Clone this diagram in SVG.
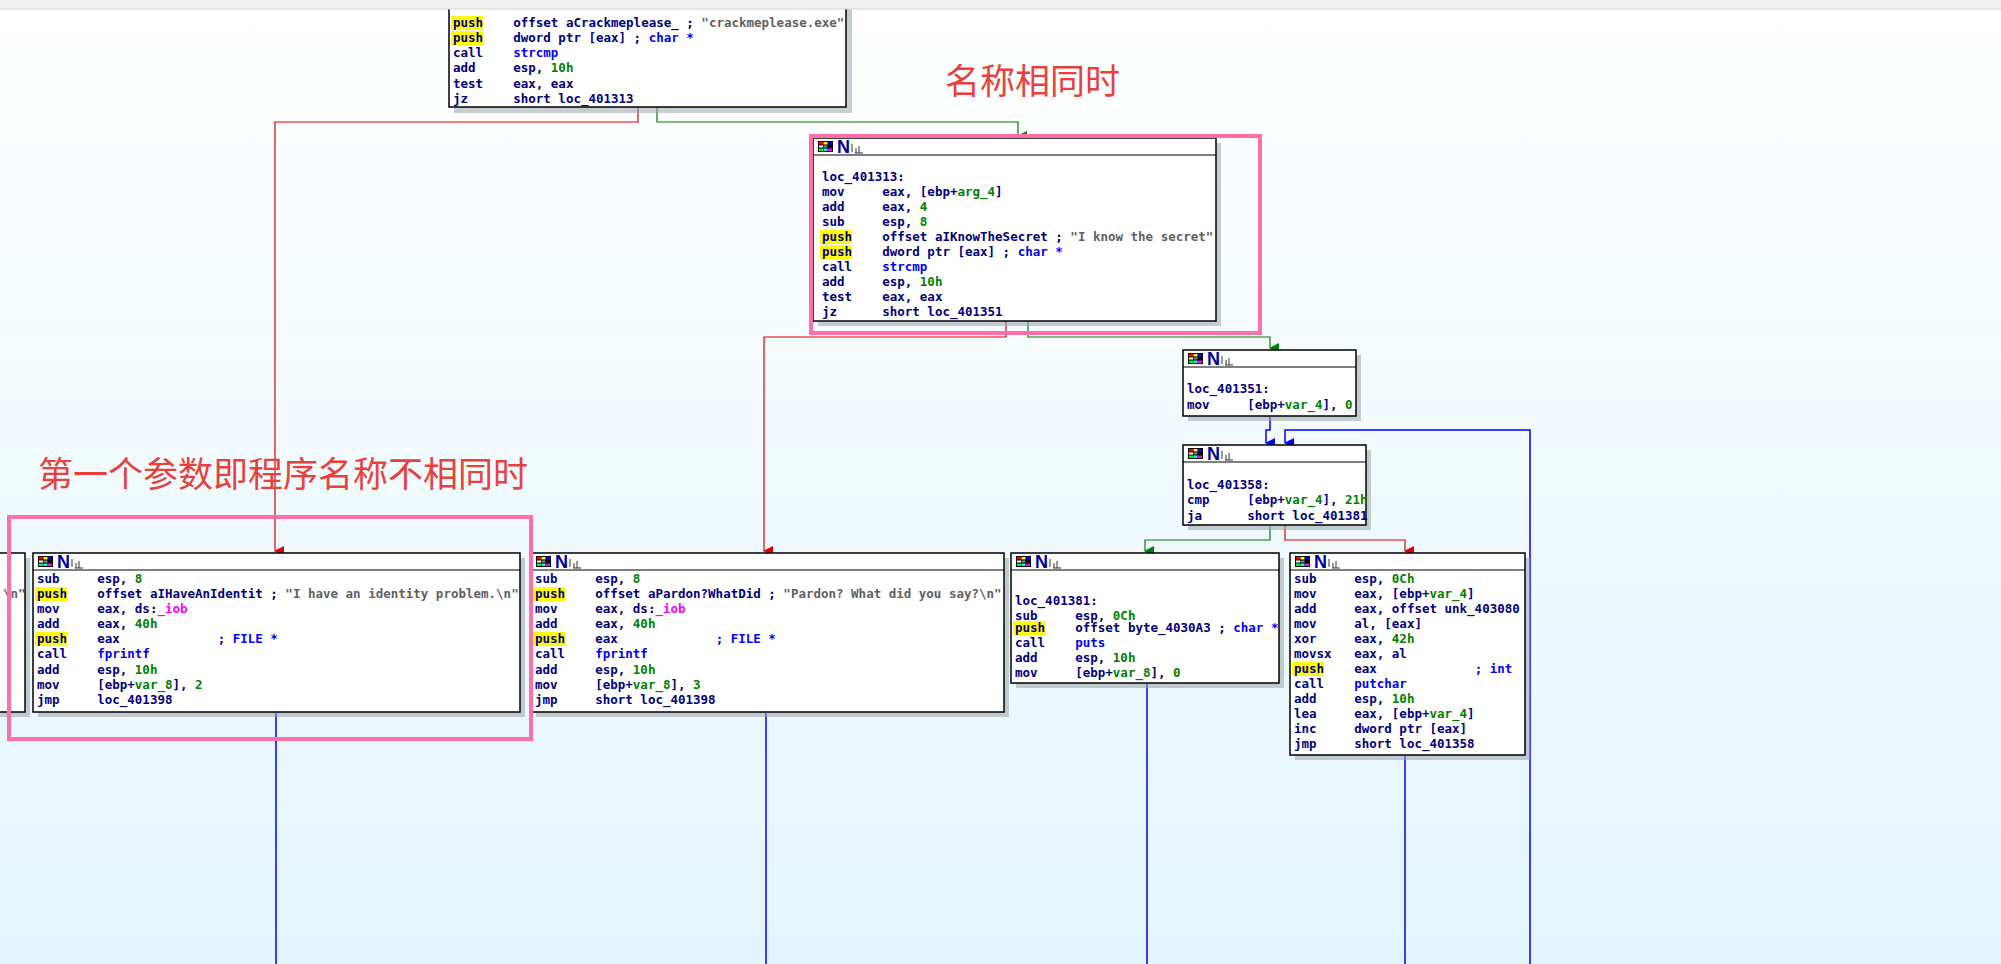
<svg xmlns="http://www.w3.org/2000/svg" width="2001" height="964" viewBox="0 0 2001 964">
<defs>
<linearGradient id="bg" x1="0" y1="0" x2="0" y2="1"><stop offset="0" stop-color="#ffffff"/><stop offset="1" stop-color="#e3f5fc"/></linearGradient>
<marker id="ar" markerWidth="10" markerHeight="10" refX="5" refY="9" orient="auto" markerUnits="userSpaceOnUse"><path d="M0,0 L10,0 L5,10 Z" fill="#e00000"/></marker>
<marker id="ag" markerWidth="10" markerHeight="10" refX="5" refY="9" orient="auto" markerUnits="userSpaceOnUse"><path d="M0,0 L10,0 L5,10 Z" fill="#008000"/></marker>
<marker id="ab" markerWidth="10" markerHeight="10" refX="5" refY="9" orient="auto" markerUnits="userSpaceOnUse"><path d="M0,0 L10,0 L5,10 Z" fill="#0000ff"/></marker>
<g id="hdr"><rect x="3" y="3" width="15" height="11" fill="#000"/><rect x="4" y="4" width="4" height="2.5" fill="#f00"/><rect x="8.5" y="4" width="4" height="2.5" fill="#ff0"/><rect x="13" y="4" width="4" height="2.5" fill="#00f"/><rect x="4" y="7.5" width="4" height="2" fill="#fff"/><rect x="8.5" y="7.5" width="4" height="2" fill="#888"/><rect x="4" y="10.5" width="4" height="2.5" fill="#0f0"/><rect x="8.5" y="10.5" width="4" height="2.5" fill="#0ff"/><rect x="13" y="10.5" width="4" height="2.5" fill="#f0f"/><text x="22" y="15" style="font-family:'Liberation Sans',sans-serif;font-weight:bold;font-size:18px;fill:#0000a0">N</text><path d="M37 6v8M41 10v5M44 8v7M40 15h8" stroke="#333" stroke-width="1" fill="none"/></g>
</defs>
<style>
text{font-family:"DejaVu Sans Mono","Liberation Mono",monospace;font-size:12.5px;font-weight:bold;fill:#000080;white-space:pre}
.b{fill:#0000ff}.g{fill:#008000}.k{fill:#ff00ff}.s{fill:#606060}
.box{fill:#fff;stroke:#000;stroke-width:1.5}
.sh{fill:#9aa4aa;opacity:.55}
.hl{fill:#ffff00}
.pk{fill:none;stroke:#ff6fa8;stroke-width:4}
.zh{font-family:"Noto Sans CJK SC",sans-serif;font-size:35px;font-weight:normal;fill:#e8413c}
.cr{fill:none;stroke:#e00000;stroke-width:1.2}.cg{fill:none;stroke:#008000;stroke-width:1.2}.cb{fill:none;stroke:#0000ff;stroke-width:1.5}
</style>
<rect width="2001" height="964" fill="url(#bg)"/>

<g id="connectors">
<path class="cr" d="M638 107V122H275V551" marker-end="url(#ar)"/>
<path class="cg" d="M657 107V122H1018V136" marker-end="url(#ag)"/>
<path class="cr" d="M1006 321V337H764V551" marker-end="url(#ar)"/>
<path class="cg" d="M1028 321V337H1270V348" marker-end="url(#ag)"/>
<path class="cb" d="M1270 417V430H1266V443" marker-end="url(#ab)"/>
<path class="cb" d="M1530 964V430H1285V443" marker-end="url(#ab)"/>
<path class="cg" d="M1270 526V540H1145V551" marker-end="url(#ag)"/>
<path class="cr" d="M1285 526V540H1405V551" marker-end="url(#ar)"/>
<path class="cb" d="M276 713V964M766 713V964M1147 684V964M1405 756V964"/>
</g>

<g id="n_top">
<rect class="sh" x="454" y="-5" width="398" height="118"/>
<rect class="box" x="449" y="-10" width="397" height="117"/>
<rect class="hl" x="451" y="16" width="32" height="14"/><rect class="hl" x="451" y="31" width="32" height="14"/>
<text x="453" y="5">sub     esp, <tspan class="g">8</tspan></text>
<text x="453" y="27">push    offset aCrackmeplease_ ; <tspan class="s">"crackmeplease.exe"</tspan></text>
<text x="453" y="42">push    dword ptr [eax] ; <tspan class="b">char *</tspan></text>
<text x="453" y="57">call    <tspan class="b">strcmp</tspan></text>
<text x="453" y="72">add     esp, <tspan class="g">10h</tspan></text>
<text x="453" y="88">test    eax, eax</text>
<text x="453" y="103">jz      short loc_401313</text>
</g>
<rect width="2001" height="9" fill="#f0f0f0"/><line x1="0" y1="9" x2="2001" y2="9" stroke="#d8d8d8"/>

<g id="n_401313">
<rect class="sh" x="818" y="143" width="403" height="183"/>
<rect class="box" x="813" y="138" width="403" height="183"/>
<use href="#hdr" x="815" y="138"/><line x1="813" y1="155" x2="1216" y2="155" stroke="#000"/>
<rect class="hl" x="820" y="230" width="32" height="14"/><rect class="hl" x="820" y="245" width="32" height="14"/>
<text x="822" y="181">loc_401313:</text>
<text x="822" y="196">mov     eax, [ebp+<tspan class="g">arg_4</tspan>]</text>
<text x="822" y="211">add     eax, <tspan class="g">4</tspan></text>
<text x="822" y="226">sub     esp, <tspan class="g">8</tspan></text>
<text x="822" y="241">push    offset aIKnowTheSecret ; <tspan class="s">"I know the secret"</tspan></text>
<text x="822" y="256">push    dword ptr [eax] ; <tspan class="b">char *</tspan></text>
<text x="822" y="271">call    <tspan class="b">strcmp</tspan></text>
<text x="822" y="286">add     esp, <tspan class="g">10h</tspan></text>
<text x="822" y="301">test    eax, eax</text>
<text x="822" y="316">jz      short loc_401351</text>
</g>

<g id="n_401351">
<rect class="sh" x="1188" y="355" width="173" height="66"/>
<rect class="box" x="1183" y="350" width="173" height="66"/>
<use href="#hdr" x="1185" y="350"/><line x1="1183" y1="367" x2="1356" y2="367" stroke="#000"/>
<text x="1187" y="393">loc_401351:</text>
<text x="1187" y="409">mov     [ebp+<tspan class="g">var_4</tspan>], <tspan class="g">0</tspan></text>
</g>

<g id="n_401358">
<rect class="sh" x="1188" y="450" width="183" height="80"/>
<rect class="box" x="1183" y="445" width="183" height="80"/>
<use href="#hdr" x="1185" y="445"/><line x1="1183" y1="462" x2="1366" y2="462" stroke="#000"/>
<text x="1187" y="489">loc_401358:</text>
<text x="1187" y="504">cmp     [ebp+<tspan class="g">var_4</tspan>], <tspan class="g">21h</tspan></text>
<text x="1187" y="520">ja      short loc_401381</text>
</g>

<g id="n_left">
<rect class="sh" x="0" y="558" width="30" height="159"/>
<rect class="box" x="-10" y="553" width="35" height="159"/>
<text x="3" y="598" class="s">\n"</text>
</g>

<g id="n_identity">
<rect class="sh" x="38" y="558" width="487" height="159"/>
<rect class="box" x="33" y="553" width="487" height="159"/>
<use href="#hdr" x="35" y="553"/><line x1="33" y1="570" x2="520" y2="570" stroke="#000"/>
<rect class="hl" x="35" y="587" width="32" height="14"/><rect class="hl" x="35" y="632" width="32" height="14"/>
<text x="37" y="583">sub     esp, <tspan class="g">8</tspan></text>
<text x="37" y="598">push    offset aIHaveAnIdentit ; <tspan class="s">"I have an identity problem.\n"</tspan></text>
<text x="37" y="613">mov     eax, ds:<tspan class="k">_iob</tspan></text>
<text x="37" y="628">add     eax, <tspan class="g">40h</tspan></text>
<text x="37" y="643">push    eax             <tspan class="b">; FILE *</tspan></text>
<text x="37" y="658">call    <tspan class="b">fprintf</tspan></text>
<text x="37" y="674">add     esp, <tspan class="g">10h</tspan></text>
<text x="37" y="689">mov     [ebp+<tspan class="g">var_8</tspan>], <tspan class="g">2</tspan></text>
<text x="37" y="704">jmp     loc_401398</text>
</g>

<g id="n_pardon">
<rect class="sh" x="536" y="558" width="473" height="159"/>
<rect class="box" x="531" y="553" width="473" height="159"/>
<use href="#hdr" x="533" y="553"/><line x1="531" y1="570" x2="1004" y2="570" stroke="#000"/>
<rect class="hl" x="533" y="587" width="32" height="14"/><rect class="hl" x="533" y="632" width="32" height="14"/>
<text x="535" y="583">sub     esp, <tspan class="g">8</tspan></text>
<text x="535" y="598">push    offset aPardon?WhatDid ; <tspan class="s">"Pardon? What did you say?\n"</tspan></text>
<text x="535" y="613">mov     eax, ds:<tspan class="k">_iob</tspan></text>
<text x="535" y="628">add     eax, <tspan class="g">40h</tspan></text>
<text x="535" y="643">push    eax             <tspan class="b">; FILE *</tspan></text>
<text x="535" y="658">call    <tspan class="b">fprintf</tspan></text>
<text x="535" y="674">add     esp, <tspan class="g">10h</tspan></text>
<text x="535" y="689">mov     [ebp+<tspan class="g">var_8</tspan>], <tspan class="g">3</tspan></text>
<text x="535" y="704">jmp     short loc_401398</text>
</g>

<g id="n_401381">
<rect class="sh" x="1016" y="558" width="268" height="130"/>
<rect class="box" x="1011" y="553" width="268" height="130"/>
<use href="#hdr" x="1013" y="553"/><line x1="1011" y1="570" x2="1279" y2="570" stroke="#000"/>
<rect class="hl" x="1013" y="621" width="32" height="14"/>
<text x="1015" y="605">loc_401381:</text>
<text x="1015" y="620">sub     esp, <tspan class="g">0Ch</tspan></text>
<text x="1015" y="632">push    offset byte_4030A3 ; <tspan class="b">char *</tspan></text>
<text x="1015" y="647">call    <tspan class="b">puts</tspan></text>
<text x="1015" y="662">add     esp, <tspan class="g">10h</tspan></text>
<text x="1015" y="677">mov     [ebp+<tspan class="g">var_8</tspan>], <tspan class="g">0</tspan></text>
</g>

<g id="n_loop">
<rect class="sh" x="1295" y="558" width="235" height="202"/>
<rect class="box" x="1290" y="553" width="235" height="202"/>
<use href="#hdr" x="1292" y="553"/><line x1="1290" y1="570" x2="1525" y2="570" stroke="#000"/>
<rect class="hl" x="1292" y="662" width="32" height="14"/>
<text x="1294" y="583">sub     esp, <tspan class="g">0Ch</tspan></text>
<text x="1294" y="598">mov     eax, [ebp+<tspan class="g">var_4</tspan>]</text>
<text x="1294" y="613">add     eax, offset unk_403080</text>
<text x="1294" y="628">mov     al, [eax]</text>
<text x="1294" y="643">xor     eax, <tspan class="g">42h</tspan></text>
<text x="1294" y="658">movsx   eax, al</text>
<text x="1294" y="673">push    eax             <tspan class="b">; int</tspan></text>
<text x="1294" y="688">call    <tspan class="b">putchar</tspan></text>
<text x="1294" y="703">add     esp, <tspan class="g">10h</tspan></text>
<text x="1294" y="718">lea     eax, [ebp+<tspan class="g">var_4</tspan>]</text>
<text x="1294" y="733">inc     dword ptr [eax]</text>
<text x="1294" y="748">jmp     short loc_401358</text>
</g>

<rect class="pk" x="811" y="136" width="449" height="197"/>
<rect class="pk" x="9" y="517" width="522" height="222"/>
<text class="zh" x="945" y="94">名称相同时</text>
<text class="zh" x="38" y="487">第一个参数即程序名称不相同时</text>
</svg>
